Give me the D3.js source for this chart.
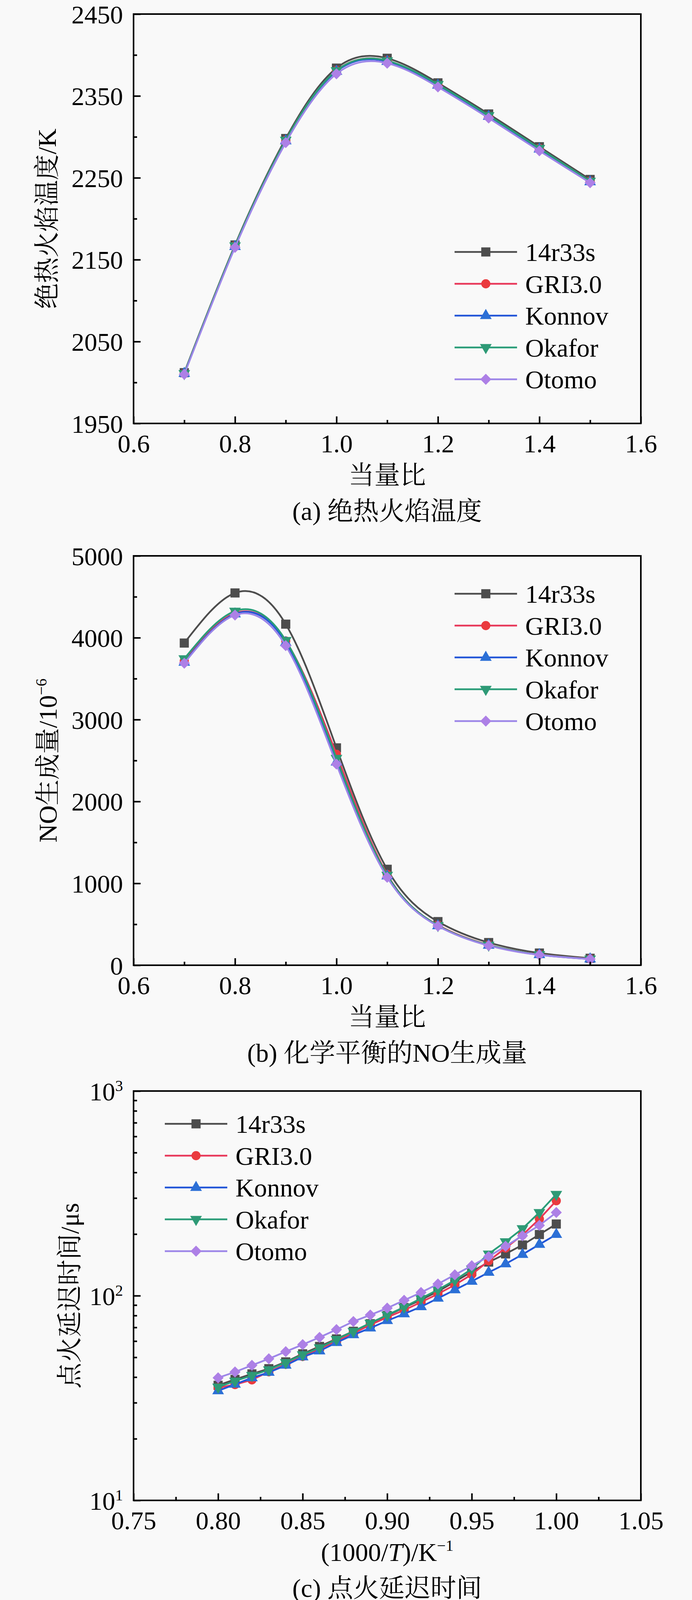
<!DOCTYPE html>
<html>
<head>
<meta charset="utf-8">
<script src="https://cdn.jsdelivr.net/npm/d3@7"></script>
<style>
  html, body { margin: 0; padding: 0; background: #f9f9f9; }
  svg { display: block; }
</style>
</head>
<body>
<svg id="fig" width="1772" height="4107"></svg>
<script>
// ---- data ----
var seriesNames = ["14r33s", "GRI3.0", "Konnov", "Okafor", "Otomo"];
var lineColors = ["#4d4d4d", "#e8385a", "#2356d8", "#2a9d78", "#9d86e8"];
var markColors = ["#4d4d4d", "#ea3a3e", "#2b6fd6", "#2e9a76", "#ad80e6"];

// (a) adiabatic flame temperature, K
var phi = [0.7, 0.8, 0.9, 1.0, 1.1, 1.2, 1.3, 1.4, 1.5];
var tad_14r33s = [2012, 2168, 2298, 2384, 2396, 2366, 2328, 2288, 2248];
var tad_GRI    = [2011, 2167, 2296, 2381, 2393, 2363, 2325, 2286, 2246];
var tad_Konnov = [2011, 2166, 2295, 2380, 2392, 2363, 2325, 2285, 2245];
var tad_Okafor = [2011, 2167, 2296, 2381, 2393, 2364, 2326, 2286, 2246];
var tad_Otomo  = [2010, 2165, 2293, 2377, 2390, 2361, 2323, 2283, 2244];

// (b) equilibrium NO, 1e-6
var no_14r33s = [3935, 4547, 4166, 2655, 1172, 533, 277, 149, 85];
var no_GRI    = [3716, 4300, 3960, 2576, 1110, 490, 248, 132, 78];
var no_Konnov = [3700, 4290, 3940, 2480, 1090, 482, 243, 128, 76];
var no_Okafor = [3744, 4325, 3967, 2528, 1100, 486, 246, 130, 77];
var no_Otomo  = [3689, 4277, 3903, 2456, 1074, 478, 240, 126, 75];

// (c) ignition delay, us vs 1000/T
var invT = [0.80, 0.81, 0.82, 0.83, 0.84, 0.85, 0.86, 0.87, 0.88, 0.89, 0.90,
            0.91, 0.92, 0.93, 0.94, 0.95, 0.96, 0.97, 0.98, 0.99, 1.00];
var tau_14r33s = [36.5, 39, 41.5, 44, 47.5, 52, 56.5, 61.5, 67, 73, 80, 87.5, 95.5, 105, 117, 131, 146, 160, 177, 199, 224];
var tau_GRI    = [35.5, 36.8, 38.8, 42.5, 46.2, 50.5, 55, 60, 65.5, 72, 78.5, 85, 93, 102, 113, 127, 148, 171, 198, 237, 291];
var tau_Konnov = [34.3, 36.9, 39.7, 42.2, 45.7, 50.2, 53.7, 59.0, 64.4, 69.5, 75.5, 81.5, 88.3, 97.1, 106.8, 117.5, 130, 143, 159, 178, 199];
var tau_Okafor = [35.8, 38.3, 40.8, 43.5, 47.2, 51.5, 55.7, 61.2, 67, 73.5, 80.5, 88, 97, 107, 119, 135, 160, 183.6, 212.7, 255, 313];
var tau_Otomo  = [39.7, 42.4, 45.7, 49.2, 53.3, 57.7, 62.6, 68.3, 74.8, 80.5, 87.0, 95.0, 103.7, 114.1, 126.5, 140.1, 155.3, 174.5, 196.3, 220.6, 255];

// tick values
var xTicksA = [0.6, 0.8, 1.0, 1.2, 1.4, 1.6];
var xMinorA = [0.7, 0.9, 1.1, 1.3, 1.5];
var yTicksA = [1950, 2050, 2150, 2250, 2350, 2450];
var yMinorA = [2000, 2100, 2200, 2300, 2400];
var yTicksB = [0, 1000, 2000, 3000, 4000, 5000];
var yMinorB = [500, 1500, 2500, 3500, 4500];
var xTicksC = [0.75, 0.80, 0.85, 0.90, 0.95, 1.00, 1.05];
var xMinorC = [0.775, 0.825, 0.875, 0.925, 0.975, 1.025];
var yTicksC = [10, 100, 1000];
var yMinorC = [20, 30, 40, 50, 60, 70, 80, 90, 200, 300, 400, 500, 600, 700, 800, 900];

// ---- layout ----
var FONT = '"Liberation Serif","Times New Roman","Noto Serif CJK SC","Noto Sans CJK SC",serif';
var FS = 66;
var L = 342, R = 1641, H = 1048, MID = (L + R) / 2;
var svg = d3.select("#fig");

var symbols = [
  {type: d3.symbolSquare, size: 545, rot: 0},
  {type: d3.symbolCircle, size: 430, rot: 0},
  {type: d3.symbolTriangle, size: 390, rot: 0},
  {type: d3.symbolTriangle, size: 390, rot: 180},
  {type: d3.symbolSquare, size: 400, rot: 45}
];

function marker(g, i, cx, cy) {
  g.append("path")
    .attr("d", d3.symbol().type(symbols[i].type).size(symbols[i].size)())
    .attr("transform", "translate(" + cx + "," + cy + ") rotate(" + symbols[i].rot + ")")
    .attr("fill", markColors[i]);
}

function styleAxis(sel) {
  sel.attr("font-family", FONT).attr("font-size", FS);
  sel.select(".domain").remove();
  sel.selectAll(".tick line").attr("stroke", "#000").attr("stroke-width", 4);
  sel.selectAll(".tick text").attr("fill", "#000");
}

function drawPanel(o) {
  var top = o.top, bottom = top + H;
  var x = o.x.range([L, R]);
  var y = o.y.range([bottom, top]);
  var g = svg.append("g");

  // series
  var line = d3.line()
    .x(function(d) { return x(d[0]); })
    .y(function(d) { return y(d[1]); })
    .curve(o.curve);
  o.data.forEach(function(vals, i) {
    var pts = o.xs.map(function(xv, k) { return [xv, vals[k]]; });
    g.append("path").datum(pts)
      .attr("d", line)
      .attr("fill", "none")
      .attr("stroke", lineColors[i])
      .attr("stroke-width", 4.5);
    pts.forEach(function(p) { marker(g, i, x(p[0]), y(p[1])); });
  });

  // axes (ticks inward)
  var xa = g.append("g").attr("transform", "translate(0," + bottom + ")")
    .call(d3.axisBottom(x).tickValues(o.xTicks).tickSize(-18).tickSizeOuter(0).tickFormat(o.xFmt));
  styleAxis(xa);
  xa.selectAll(".tick text").attr("y", 51).attr("dy", "0.35em");
  var xm = g.append("g").attr("transform", "translate(0," + bottom + ")")
    .call(d3.axisBottom(x).tickValues(o.xMinor).tickSize(-9).tickSizeOuter(0).tickFormat(""));
  styleAxis(xm);

  var ya = g.append("g").attr("transform", "translate(" + L + ",0)")
    .call(d3.axisLeft(y).tickValues(o.yTicks).tickSize(-18).tickSizeOuter(0).tickPadding(27).tickFormat(o.yFmt));
  styleAxis(ya);
  ya.selectAll(".tick text").attr("dy", "0.35em");
  if (o.logLabels) {
    ya.selectAll(".tick text").each(function(d) {
      var t = d3.select(this).text("");
      t.append("tspan").text("10");
      t.append("tspan").attr("font-size", 40).attr("dy", -24).text(Math.round(Math.log10(d)));
    });
  }
  var ym = g.append("g").attr("transform", "translate(" + L + ",0)")
    .call(d3.axisLeft(y).tickValues(o.yMinor).tickSize(-9).tickSizeOuter(0).tickFormat(""));
  styleAxis(ym);

  // frame
  g.append("rect").attr("x", L).attr("y", top).attr("width", R - L).attr("height", H)
    .attr("fill", "none").attr("stroke", "#000").attr("stroke-width", 4);

  // y label
  var yl = g.append("text")
    .attr("transform", "translate(" + o.ylabelX + "," + (top + H / 2) + ") rotate(-90)")
    .attr("text-anchor", "middle").attr("dy", "0.35em")
    .attr("font-family", FONT).attr("font-size", FS).attr("fill", "#000");
  o.ylabel(yl);

  // x label + caption
  var xl = g.append("text").attr("x", MID).attr("y", bottom + 132).attr("dy", "0.35em")
    .attr("text-anchor", "middle").attr("font-family", FONT).attr("font-size", FS).attr("fill", "#000");
  o.xlabel(xl);
  g.append("text").attr("x", MID).attr("y", bottom + 224).attr("dy", "0.35em")
    .attr("text-anchor", "middle").attr("font-family", FONT).attr("font-size", FS).attr("fill", "#000")
    .text(o.caption);

  // legend
  seriesNames.forEach(function(name, i) {
    var ly = o.legend[1] + i * 81.5, lx = o.legend[0];
    g.append("line").attr("x1", lx).attr("x2", lx + 160).attr("y1", ly).attr("y2", ly)
      .attr("stroke", lineColors[i]).attr("stroke-width", 4.5);
    marker(g, i, lx + 80, ly);
    g.append("text").attr("x", lx + 181).attr("y", ly).attr("dy", "0.35em")
      .attr("font-family", FONT).attr("font-size", FS).attr("fill", "#000").text(name);
  });
}

drawPanel({
  top: 36,
  x: d3.scaleLinear().domain([0.6, 1.6]),
  y: d3.scaleLinear().domain([1950, 2450]),
  xs: phi,
  data: [tad_14r33s, tad_GRI, tad_Konnov, tad_Okafor, tad_Otomo],
  curve: d3.curveNatural,
  xTicks: xTicksA, xMinor: xMinorA, xFmt: d3.format(".1f"),
  yTicks: yTicksA, yMinor: yMinorA, yFmt: d3.format("d"),
  ylabelX: 120,
  ylabel: function(t) { t.text("绝热火焰温度/K"); },
  xlabel: function(t) { t.text("当量比"); },
  caption: "(a) 绝热火焰温度",
  legend: [1164, 645]
});

drawPanel({
  top: 1423,
  x: d3.scaleLinear().domain([0.6, 1.6]),
  y: d3.scaleLinear().domain([0, 5000]),
  xs: phi,
  data: [no_14r33s, no_GRI, no_Konnov, no_Okafor, no_Otomo],
  curve: d3.curveNatural,
  xTicks: xTicksA, xMinor: xMinorA, xFmt: d3.format(".1f"),
  yTicks: yTicksB, yMinor: yMinorB, yFmt: d3.format("d"),
  ylabelX: 122,
  ylabel: function(t) {
    t.append("tspan").text("NO生成量/10");
    t.append("tspan").attr("font-size", 40).attr("dy", -26).text("−6");
  },
  xlabel: function(t) { t.text("当量比"); },
  caption: "(b) 化学平衡的NO生成量",
  legend: [1164, 1520]
});

drawPanel({
  top: 2793,
  x: d3.scaleLinear().domain([0.75, 1.05]),
  y: d3.scaleLog().domain([10, 1000]),
  xs: invT,
  data: [tau_14r33s, tau_GRI, tau_Konnov, tau_Okafor, tau_Otomo],
  curve: d3.curveLinear,
  xTicks: xTicksC, xMinor: xMinorC, xFmt: d3.format(".2f"),
  yTicks: yTicksC, yMinor: yMinorC, yFmt: function(d) { return d; },
  logLabels: true,
  ylabelX: 178,
  ylabel: function(t) { t.text("点火延迟时间/μs"); },
  xlabel: function(t) {
    t.append("tspan").text("(1000/");
    t.append("tspan").attr("font-style", "italic").text("T");
    t.append("tspan").text(")/K");
    t.append("tspan").attr("font-size", 40).attr("dy", -26).text("−1");
  },
  caption: "(c) 点火延迟时间",
  legend: [422, 2877]
});
</script>
</body>
</html>
